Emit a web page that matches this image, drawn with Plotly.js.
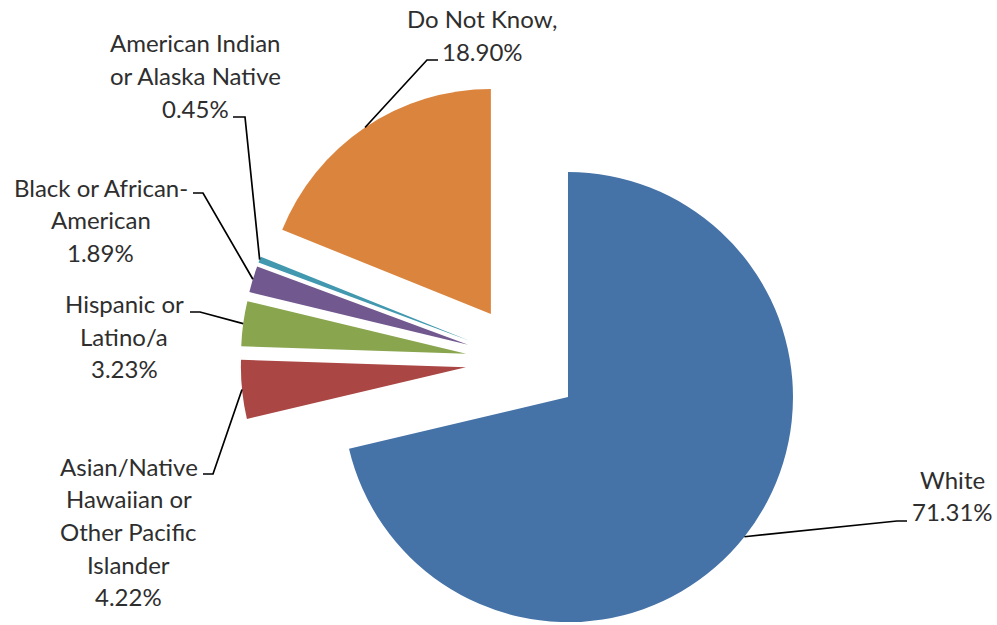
<!DOCTYPE html>
<html>
<head>
<meta charset="utf-8">
<script src="https://cdn.plot.ly/plotly-3.0.1.min.js"></script>
<style>
  html, body { margin: 0; padding: 0; overflow: hidden; background: #fff; }
  #wrap { width: 997px; height: 625px; overflow: hidden; position: relative; }
  #chart { width: 997px; height: 700px; }
</style>
</head>
<body>
<div id="wrap"><div id="chart"></div></div>
<script>
// ---- data ----
const categories = ["White", "Asian/Native Hawaiian or Other Pacific Islander", "Hispanic or Latino/a",
                    "Black or African-American", "American Indian or Alaska Native", "Do Not Know"];
const values = [71.31, 4.22, 3.23, 1.89, 0.45, 18.90];
const labelNameLines = [
  ["White"],
  ["Asian/Native", "Hawaiian or", "Other Pacific", "Islander"],
  ["Hispanic or", "Latino/a"],
  ["Black or African-", "American"],
  ["American Indian", "or Alaska Native"],
  ["Do Not Know,"]
];
const colors = ["#4572A7", "#AA4643", "#89A54E", "#71588F", "#4198AF", "#DB843D"];

// ---- layout geometry (pixels) ----
const W = 997, H = 700;
const cx = 523, cy = 361.5, r = 225, pull = 0.255;
const half = r * (1 + pull);
const lineGap = 32.7;
const fontSize = 24;
const fontFamily = "Lato, 'Noto Sans', sans-serif";
// label block: first-line centre; elbow and end of leader line
const labelPos = [
  {x: 952,   y: 479,  ex: 897, ey: 521, hx: 907},
  {x: 128.5, y: 466,  ex: 213, ey: 474, hx: 203},
  {x: 124,   y: 303.5,ex: 200, ey: 312, hx: 190},
  {x: 100.5, y: 187,  ex: 203, ey: 193, hx: 193},
  {x: 195,   y: 43,   ex: 245, ey: 117, hx: 233},
  {x: 482,   y: 18.5, ex: 427, ey: 60,  hx: 438}
];

const px = x => x / W;
const py = y => 1 - y / H;

const total = values.reduce((a, b) => a + b, 0);
const annotations = [];
const shapes = [];
let cum = 0;
values.forEach((v, i) => {
  const midDeg = (cum + v / 2) / total * 360;
  cum += v;
  const a = midDeg * Math.PI / 180;
  const R = r * (1 + pull);
  const ax = cx + R * Math.sin(a), ay = cy - R * Math.cos(a);
  const p = labelPos[i];
  shapes.push({
    type: "path", xref: "paper", yref: "paper",
    path: `M ${px(ax)} ${py(ay)} L ${px(p.ex)} ${py(p.ey)} L ${px(p.hx)} ${py(p.ey)}`,
    line: {color: "#000", width: 1.7}
  });
  const lines = labelNameLines[i].concat([v.toFixed(2) + "%"]);
  lines.forEach((t, k) => {
    annotations.push({
      xref: "paper", yref: "paper",
      x: px(p.x), y: py(p.y + k * lineGap),
      xanchor: "center", yanchor: "middle",
      text: t, showarrow: false,
      font: {family: fontFamily, size: fontSize, color: "#2e2e2e"}
    });
  });
});

const trace = {
  type: "pie",
  labels: categories,
  values: values,
  sort: false,
  direction: "clockwise",
  rotation: 0,
  pull: values.map(() => pull),
  textinfo: "none",
  marker: {colors: colors, line: {width: 0}},
  domain: {
    x: [px(cx - half), px(cx + half)],
    y: [py(cy + half), py(cy - half)]
  }
};

Plotly.newPlot("chart", [trace], {
  width: W, height: H,
  margin: {l: 0, r: 0, t: 0, b: 0},
  showlegend: false,
  paper_bgcolor: "#fff",
  annotations: annotations,
  shapes: shapes
}, {displayModeBar: false, staticPlot: true});
</script>
</body>
</html>
